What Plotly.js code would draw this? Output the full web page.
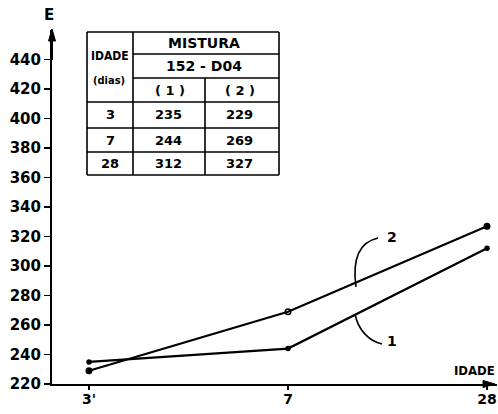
<!DOCTYPE html>
<html>
<head>
<meta charset="utf-8">
<script src="https://cdn.plot.ly/plotly-3.0.1.min.js"></script>
<style>html,body{margin:0;padding:0;background:#fff;}#chart{width:498px;height:414px;}</style>
</head>
<body>
<div id="chart"></div>
<script>
// ---- data ----
var idades = ['3', '7', '28'];
var tickText = ["3'", '7', '28'];
var serie1 = [235, 244, 312];
var serie2 = [229, 269, 327];
var yTicks = [220, 240, 260, 280, 300, 320, 340, 360, 380, 400, 420, 440];
var tableHeader = ['IDADE', '(dias)', 'MISTURA', '152 - D04', '( 1 )', '( 2 )'];

// ---- layout helpers (pixel -> paper) ----
var L = 52, R = 497, T = 30, B = 384, W = 498, H = 414;
var X0 = 89, DX = 199;
function px(x) { return (x - L) / (R - L); }
function py(y) { return (B - y) / (B - T); }

var xIdx = idades.map(function (d, i) { return i; });
var font = 'DejaVu Sans, Arial, sans-serif';
var cfont = 'DejaVu Sans Condensed, DejaVu Sans, sans-serif';

var traces = [
  {x: xIdx, y: serie1, mode: 'lines+markers', line: {color: '#000', width: 2.2},
   marker: {color: '#000', size: 5.5, symbol: 'circle'}, cliponaxis: false, hoverinfo: 'none'},
  {x: xIdx, y: serie2, mode: 'lines+markers', line: {color: '#000', width: 2.2},
   marker: {color: '#000', size: 5.5, symbol: ['circle', 'circle-open', 'circle'], line: {color: '#000', width: 1.5}},
   cliponaxis: false, hoverinfo: 'none'}
];

var shapes = [];
function seg(x0, y0, x1, y1, w) {
  shapes.push({type: 'line', xref: 'paper', yref: 'paper', x0: px(x0), y0: py(y0), x1: px(x1), y1: py(y1),
    line: {color: '#000', width: w || 1.6}});
}
function path(d, fill) {
  shapes.push({type: 'path', xref: 'paper', yref: 'paper', path: d,
    fillcolor: fill ? '#000' : 'rgba(0,0,0,0)', line: {color: '#000', width: fill ? 1 : 1.6}});
}
function P(x, y) { return px(x) + ',' + py(y); }

// axis arrows
path('M' + P(52, 29) + ' L' + P(48.5, 41) + ' L' + P(55.5, 41) + ' Z', true);
path('M' + P(495, 384) + ' L' + P(483, 380.5) + ' L' + P(483, 387.5) + ' Z', true);
seg(52, 41, 52, 60, 2);

// table grid
var tx0 = 87, tx1 = 279, ty0 = 32, ty1 = 175, c1 = 133, c2 = 205;
seg(tx0, ty0, tx1, ty0); seg(tx0, ty1, tx1, ty1);
seg(tx0, ty0, tx0, ty1); seg(tx1, ty0, tx1, ty1);
seg(c1, ty0, c1, ty1); seg(c2, 78, c2, ty1);
seg(c1, 54, tx1, 54); seg(c1, 78, tx1, 78);
seg(tx0, 102, tx1, 102); seg(tx0, 128, tx1, 128); seg(tx0, 152, tx1, 152);

// leader curves
path('M' + P(378, 238) + ' C' + P(360, 242) + ' ' + P(352, 258) + ' ' + P(356, 287), false);
path('M' + P(355, 314) + ' C' + P(358, 330) + ' ' + P(369, 341) + ' ' + P(382, 344), false);

var ann = [];
function txt(t, x, y, size, f, xa) {
  ann.push({text: t, xref: 'paper', yref: 'paper', x: px(x), y: py(y), xanchor: xa || 'center', yanchor: 'middle',
    showarrow: false, font: {family: f || font, size: size, color: '#000', weight: 'bold'}});
}
txt('E', 49, 15, 15);
txt('IDADE', 497, 370, 13, cfont, 'right');
txt('2', 392, 237, 14);
txt('1', 392, 341, 14);

txt(tableHeader[0], 110, 56, 12, cfont);
txt(tableHeader[1], 109, 80, 11, cfont);
txt(tableHeader[2], 204, 43, 14);
txt(tableHeader[3], 204, 66, 14);
txt(tableHeader[4], 170, 90, 13);
txt(tableHeader[5], 240, 90, 13);
var rowY = [115, 140, 164];
idades.forEach(function (d, i) {
  txt(d, 110, rowY[i], 13);
  txt(String(serie1[i]), 168, rowY[i], 13);
  txt(String(serie2[i]), 239, rowY[i], 13);
});

var layout = {
  width: W, height: H,
  margin: {l: L, r: W - R, t: T, b: H - B, pad: 0},
  paper_bgcolor: '#fff', plot_bgcolor: '#fff',
  showlegend: false,
  xaxis: {range: [(L - X0) / DX, (R - X0) / DX], tickvals: xIdx, ticktext: tickText,
    showgrid: false, zeroline: false, showline: true, linecolor: '#000', linewidth: 2,
    ticks: 'outside', ticklen: 4, tickwidth: 1.5, tickcolor: '#000',
    ticklabeloverflow: 'allow', ticklabelstandoff: -3,
    tickfont: {family: font, size: 14, color: '#000', weight: 'bold'}},
  yaxis: {range: [220, 460], tickvals: yTicks, showgrid: false, zeroline: false,
    showline: true, linecolor: '#000', linewidth: 2,
    ticks: 'outside', ticklen: 6, tickwidth: 1.5, tickcolor: '#000',
    tickfont: {family: font, size: 15, color: '#000', weight: 'bold'}},
  shapes: shapes,
  annotations: ann
};

Plotly.newPlot('chart', traces, layout, {staticPlot: true, displayModeBar: false});
</script>
</body>
</html>
